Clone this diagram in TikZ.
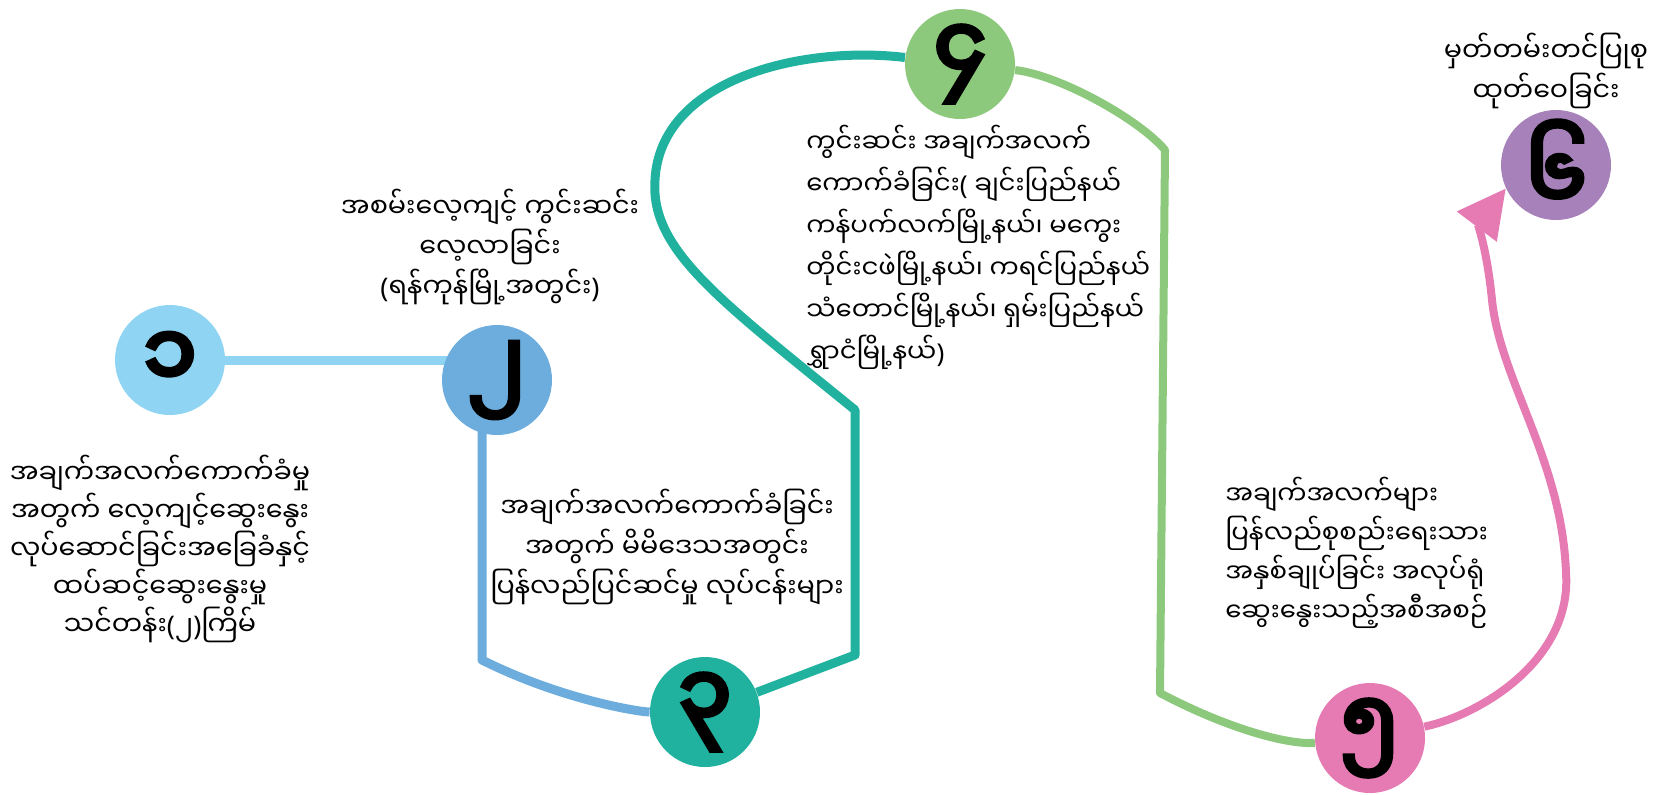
\documentclass[tikz,border=0pt]{standalone}
\usepackage{fontspec}
\usetikzlibrary{arrows.meta, backgrounds}
\newfontfamily\mmfont[Script=Myanmar]{Noto Sans Myanmar UI}
\newfontfamily\mmnum[Script=Myanmar, FakeBold=6]{Noto Sans Myanmar UI}
\newfontfamily\latinfont{Noto Sans}
\newcommand{\mmlp}{{\latinfont(}}
\newcommand{\mmrp}{{\latinfont)}}
\definecolor{skyc}{HTML}{8FD5F3}
\definecolor{bluec}{HTML}{6CADDE}
\definecolor{tealc}{HTML}{20B29E}
\definecolor{greenc}{HTML}{8CC97C}
\definecolor{pinkc}{HTML}{E67BB4}
\definecolor{purplec}{HTML}{A681BA}
\tikzstyle{stage} = [circle, minimum size=55pt, inner sep=0pt, text=black, font=\mmnum\fontsize{42}{42}\selectfont]
\tikzstyle{note} = [inner sep=0pt, text=black, font=\mmfont\fontsize{13.5}{20}\selectfont]
\tikzstyle{track} = [line width=4.5pt, line join=round]
\tikzstyle{arrow} = [line width=4pt, -{Triangle[length=24pt, width=24pt]}]

\begin{document}
\begin{tikzpicture}[x=0.5pt, y=-0.5pt]
    \useasboundingbox (0,0) rectangle (1664,794);
    \node (c1) [stage, fill=skyc] at (170,360) {၁};
    \node (c2) [stage, fill=bluec] at (497,380) {၂};
    \node (c3) [stage, fill=tealc] at (705,712) {၃};
    \node (c4) [stage, fill=greenc] at (960,64) {၄};
    \node (c5) [stage, fill=pinkc] at (1370,738) {၅};
    \node (c6) [stage, fill=purplec] at (1556,165) {၆};

    \node (t1) [note, align=center, font=\mmfont\fontsize{13.5}{19}\selectfont] at (160,549)
    {အချက်အလက်ကောက်ခံမှု\\အတွက် လေ့ကျင့်ဆွေးနွေး\\လုပ်ဆောင်ခြင်းအခြေခံနှင့်\\ထပ်ဆင့်ဆွေးနွေးမှု\\သင်တန်း\mmlp၂\mmrp ကြိမ်};
    \node (t2) [note, align=center] at (490,247)
    {အစမ်းလေ့ကျင့် ကွင်းဆင်း\\လေ့လာခြင်း\\\mmlp ရန်ကုန်မြို့အတွင်း\mmrp};
    \node (t3) [note, align=center] at (667,547)
    {အချက်အလက်ကောက်ခံခြင်း\\အတွက် မိမိဒေသအတွင်း\\ပြန်လည်ပြင်ဆင်မှု လုပ်ငန်းများ};
    \node (t4) [note, align=left, anchor=west, font=\mmfont\fontsize{13}{21}\selectfont] at (806,247)
    {ကွင်းဆင်း အချက်အလက်\\ကောက်ခံခြင်း\mmlp{} ချင်းပြည်နယ်\\ကန်ပက်လက်မြို့နယ်၊ မကွေး\\တိုင်းငဖဲမြို့နယ်၊ ကရင်ပြည်နယ်\\သံတောင်မြို့နယ်၊ ရှမ်းပြည်နယ်\\ရွှာငံမြို့နယ်\mmrp};
    \node (t5) [note, align=left, anchor=west, font=\mmfont\fontsize{13}{19.5}\selectfont] at (1225,553)
    {အချက်အလက်များ\\ပြန်လည်စုစည်းရေးသား\\အနှစ်ချုပ်ခြင်း အလုပ်ရုံ\\ဆွေးနွေးသည့်အစီအစဉ်};
    \node (t6) [note, align=center] at (1546,71)
    {မှတ်တမ်းတင်ပြုစု\\ထုတ်ဝေခြင်း};

    \begin{scope}[on background layer]
    \draw [track, skyc] (c1) -- (c1 -| c2);
    \draw [track, bluec] (c2) ++(-15,0) -- (482,660) .. controls (562,700) and (640,712) .. (c3);
    \draw [track, tealc] (c3) -- (855,655) -- (855,410) .. controls (720,300) and (650,250) .. (655,180)
     .. controls (660,80) and (800,45) .. (c4);
    \draw [track, greenc, line width=4pt] (c4) .. controls (1060,75) and (1140,120) .. (1165,150)
     -- (1160,693) .. controls (1230,730) and (1290,745) .. (c5);
    \draw [arrow, pinkc] (c5) .. controls (1480,715) and (1572,660) .. (1566,573)
     .. controls (1562,460) and (1500,380) .. (1492,300) .. controls (1487,250) and (1478,225) .. (c6.205);
    \end{scope}
\end{tikzpicture}
\end{document}
